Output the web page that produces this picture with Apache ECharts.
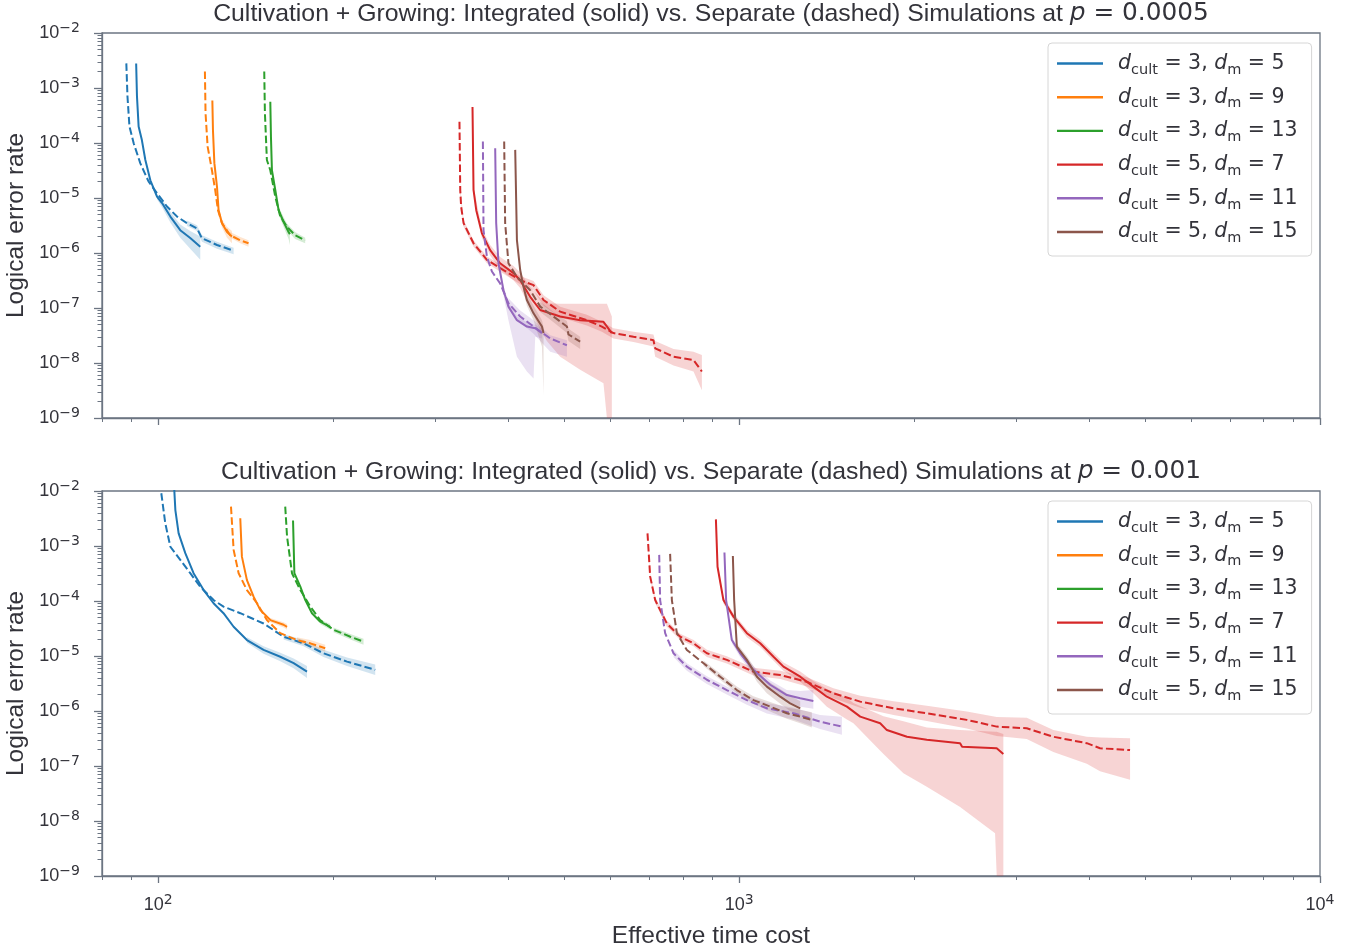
<!DOCTYPE html>
<html><head><meta charset="utf-8">
<script src="https://cdn.jsdelivr.net/npm/echarts@6/dist/echarts.min.js"></script>
<style>html,body{margin:0;padding:0;background:#fff}#c{width:1364px;height:952px}</style>
</head><body><div id="c"></div>
<script>
// ---------- Data: top panel (p = 0.0005) ----------
const t_s_c3m5 = [[91.6,2.8e-3],[91.9,7e-4],[92.5,2e-4],[93.7,1.13e-4],[95,4.9e-5],[96.9,2.1e-5],[99.5,1.06e-5],[101.5,8.1e-6],[104.9,4.6e-6],[109.1,2.6e-6],[113.5,1.87e-6],[118.1,1.3e-6]];
const t_d_c3m5 = [[88.1,2.8e-3],[88.5,7e-4],[89.2,2e-4],[90.7,9.9e-5],[93.1,4.3e-5],[96.2,2e-5],[99.5,1.22e-5],[103.5,7e-6],[107.7,4.6e-6],[112,3.5e-6],[116.6,2.8e-6],[118.9,1.85e-6],[126.2,1.4e-6],[134.8,1.1e-6]];
const t_s_c3m9 = [[123.9,5.9e-4],[124.2,1.7e-4],[124.9,4.3e-5],[126.2,1.6e-5],[127,6e-6],[128.7,3.5e-6],[131.3,2.4e-6],[133.9,2e-6]];
const t_d_c3m9 = [[120.3,2e-3],[120.6,3.5e-4],[121.6,8.6e-5],[123.7,3.2e-5],[125.3,1.4e-5],[126.7,6e-6],[128.7,3.5e-6],[133,2.1e-6],[138.4,1.7e-6],[143,1.5e-6]];
const t_s_c3m13 = [[155.9,5.6e-4],[156.3,1.3e-4],[156.9,3.2e-5],[159,1.4e-5],[161.1,6e-6],[164.3,3.7e-6],[167.6,2.4e-6],[168.5,2.2e-6]];
const t_d_c3m13 = [[152.2,2e-3],[152.6,3.5e-4],[153.8,4.9e-5],[155.9,3.2e-5],[159,1.06e-5],[162.2,4.6e-6],[166.6,3e-6],[172,2.1e-6],[179,1.7e-6]];
const t_s_c5m7 = [[347.5,4.5e-4],[348.9,1.4e-5],[352.7,6e-6],[360.6,2.3e-6],[372.7,1.13e-6],[387.7,6.5e-7],[408.8,4.3e-7],[419.8,3.2e-7],[436.8,1.6e-7],[454.5,9.2e-8],[491.9,7e-8],[532.5,6e-8],[584,5.6e-8],[603.7,3.5e-8]];
const t_d_c5m7 = [[330,2.44e-4],[331,1.4e-5],[332.2,6.9e-6],[335.4,3.5e-6],[348.9,1.5e-6],[367.9,7.5e-7],[392.9,4.9e-7],[419.8,3.2e-7],[442.6,2.6e-7],[460.5,1.4e-7],[491.9,8.6e-8],[546.8,6e-8],[580.3,4.6e-8],[607.5,3.5e-8],[657.9,3e-8],[712,2.6e-8],[716.9,1.85e-8],[770.9,1.3e-8],[834.5,1.13e-8],[862.7,7e-9]];
const t_s_c5m11 = [[380.2,8e-5],[381.7,3.5e-6],[385.2,6.5e-7],[392.9,2.1e-7],[400.7,1.06e-7],[414.4,6e-8],[431.1,4.6e-8],[445.6,4.3e-8],[457.6,3.5e-8]];
const t_d_c5m11 = [[362.1,1.06e-4],[363,2.6e-6],[367.9,8.6e-7],[375.3,4.6e-7],[387.7,2.8e-7],[400.7,1.22e-7],[419.8,7e-8],[442.6,4.6e-8],[472.9,2.8e-8],[505.2,2.1e-8]];
const t_s_c5m15 = [[411.6,7.5e-5],[414.4,1.72e-6],[419.8,4.9e-7],[425.3,2.44e-7],[431.1,1.4e-7],[442.6,8e-8],[457.6,4.6e-8],[460.5,3.5e-8]];
const t_d_c5m15 = [[394,1.06e-4],[395.5,3.5e-6],[400.7,6.5e-7],[414.4,3.7e-7],[436.8,2.1e-7],[454.5,1.06e-7],[479.1,7e-8],[505.2,4.6e-8],[508.4,3.3e-8],[532.5,2.44e-8]];

// bands: [x, low, high]
const tb_s_c3m5 = [[99.5,9.5e-6,1.15e-5],[101.5,6.8e-6,9.5e-6],[104.9,3.6e-6,5.6e-6],[109.1,1.9e-6,3.3e-6],[113.5,1.2e-6,2.5e-6],[118.1,7.5e-7,2e-6]];
const tb_d_c3m5 = [[112,3.1e-6,3.9e-6],[116.6,2.5e-6,3.2e-6],[118.9,1.6e-6,2.1e-6],[126.2,1.2e-6,1.6e-6],[134.8,9.5e-7,1.25e-6]];
const tb_s_c3m9 = [[127,5e-6,7e-6],[128.7,2.9e-6,4.1e-6],[131.3,1.9e-6,3e-6],[133.9,1.5e-6,2.5e-6]];
const tb_d_c3m9 = [[133,1.9e-6,2.4e-6],[138.4,1.5e-6,1.95e-6],[143,1.3e-6,1.7e-6]];
const tb_s_c3m13 = [[161.1,5e-6,7e-6],[164.3,3e-6,4.5e-6],[167.6,1.8e-6,3e-6],[168.5,1.4e-6,2.7e-6]];
const tb_d_c3m13 = [[166.6,2.6e-6,3.4e-6],[172,1.8e-6,2.4e-6],[179,1.5e-6,1.9e-6]];
const tb_s_c5m7 = [[348.9,1.2e-5,1.6e-5],[360.6,1.9e-6,2.8e-6],[372.7,9e-7,1.4e-6],[387.7,5e-7,8.5e-7],[408.8,3.2e-7,5.8e-7],[419.8,2.3e-7,4.4e-7],[436.8,1e-7,2.4e-7],[454.5,4e-8,1.5e-7],[466.7,2.5e-8,1.22e-7],[491.9,1.3e-8,1.2e-7],[532.5,7.5e-9,1.2e-7],[584,4.3e-9,1.2e-7],[592,1e-9,1.2e-7],[603.7,1e-9,7e-8]];
const tb_d_c5m7 = [[330,2.2e-4,2.7e-4],[331,1.2e-5,1.6e-5],[335.4,3e-6,4e-6],[348.9,1.3e-6,1.7e-6],[367.9,6.5e-7,8.6e-7],[392.9,4.2e-7,5.7e-7],[419.8,2.7e-7,3.8e-7],[442.6,2.1e-7,3.1e-7],[460.5,1.1e-7,1.7e-7],[491.9,6.8e-8,1.05e-7],[546.8,4.8e-8,7.5e-8],[580.3,3.7e-8,5.6e-8],[607.5,2.8e-8,4.3e-8],[657.9,2.4e-8,3.7e-8],[712,2e-8,3.3e-8],[716.9,1.3e-8,2.5e-8],[770.9,9e-9,1.8e-8],[834.5,7e-9,1.6e-8],[862.7,3.2e-9,1.4e-8]];
const tb_s_c5m11 = [[380.2,7e-5,9e-5],[381.7,3e-6,4e-6],[385.2,5.5e-7,7.5e-7],[392.9,1.7e-7,2.5e-7],[400.7,6e-8,1.3e-7],[414.4,1.3e-8,7e-8],[431.1,7e-9,5.5e-8],[442.6,5.2e-9,5e-8],[445.6,3e-8,5e-8],[457.6,2.8e-8,4.2e-8]];
const tb_d_c5m11 = [[400.7,1e-7,1.5e-7],[419.8,5.5e-8,9e-8],[442.6,3.4e-8,6e-8],[472.9,1.6e-8,3.2e-8],[505.2,1.3e-8,2.6e-8]];
const tb_s_c5m15 = [[425.3,2e-7,3e-7],[431.1,1.1e-7,1.8e-7],[442.6,6e-8,1.1e-7],[457.6,2e-8,6e-8],[460.5,2.6e-9,4.5e-8]];
const tb_d_c5m15 = [[454.5,8.5e-8,1.3e-7],[479.1,5.5e-8,8.5e-8],[505.2,3.5e-8,5.8e-8],[508.4,2.5e-8,4.2e-8],[532.5,1.8e-8,3e-8]];

// ---------- Data: bottom panel (p = 0.001) ----------
const b_s_c3m5 = [[106.2,2e-2],[107,4.5e-3],[108.4,1.7e-3],[111.3,7.4e-4],[115,3.2e-4],[119.7,1.58e-4],[124.5,9.1e-5],[129.5,6e-5],[134.8,3.4e-5],[142.1,1.95e-5],[151.8,1.29e-5],[162.2,9.7e-6],[171,7.4e-6],[180.3,5.2e-6]];
const b_d_c3m5 = [[101.2,9.1e-3],[102.8,2.6e-3],[104.9,9.7e-4],[109.1,5.6e-4],[113.5,3.2e-4],[118.1,1.82e-4],[124.5,1.04e-4],[129.5,7.9e-5],[138.4,6e-5],[151.8,3.9e-5],[164.3,2.24e-5],[177.9,1.7e-5],[192.5,1.12e-5],[211.3,7.9e-6],[236.3,5.6e-6]];
const b_s_c3m9 = [[138.4,3.2e-3],[139.3,6.4e-4],[142.1,2.4e-4],[145.9,1.2e-4],[149.8,6.9e-5],[155.9,4.5e-5],[164.3,3.7e-5],[166.6,3.4e-5]];
const b_d_c3m9 = [[133.4,5.2e-3],[134.8,8.5e-4],[137.5,3.2e-4],[142.1,1.58e-4],[147.9,9.1e-5],[153.8,4.5e-5],[162.2,2.6e-5],[173.3,1.95e-5],[182.7,1.7e-5],[193.8,1.38e-5]];
const b_s_c3m13 = [[170.6,2.9e-3],[171.5,3.2e-4],[175.6,1.82e-4],[179.1,1.04e-4],[183.9,6e-5],[190,4.2e-5],[197.7,3.4e-5]];
const b_d_c3m13 = [[165.4,5.2e-3],[166.6,1.48e-3],[169.9,3.2e-4],[175.6,1.58e-4],[182.7,7.9e-5],[190,4.5e-5],[200.3,3e-5],[214.1,2.24e-5],[225.6,1.82e-5]];
const b_s_c5m7 = [[912,3.05e-3],[917.9,4.2e-4],[939.6,1.04e-4],[977.7,5.2e-5],[1031,2.6e-5],[1087,1.7e-5],[1146,9.7e-6],[1192,6.4e-6],[1274,4.2e-6],[1342,2.77e-6],[1416,1.82e-6],[1533,1.2e-6],[1616,7.9e-7],[1749,6e-7],[1796,4.5e-7],[1945,3.4e-7],[2104,3e-7],[2401,2.6e-7],[2420,2.24e-7],[2776,2.1e-7],[2850,1.65e-7]];
const b_d_c5m7 = [[695.4,1.7e-3],[702.8,2.77e-4],[716.9,1.04e-4],[750.8,3.9e-5],[791.6,2.24e-5],[834.5,1.7e-5],[880,1.12e-5],[952.3,8.5e-6],[1058,5.2e-6],[1177,4.5e-6],[1308,3.4e-6],[1453,2.1e-6],[1616,1.48e-6],[1844,1.12e-6],[2104,9.1e-7],[2466,6.9e-7],[2776,5.2e-7],[3127,4.85e-7],[3475,3.4e-7],[3967,2.6e-7],[4181,2.1e-7],[4710,1.95e-7]];
const b_s_c5m11 = [[943.4,7.6e-4],[949.7,1.04e-4],[971.4,1.95e-5],[1004,1.12e-5],[1058,5.6e-6],[1131,3e-6],[1208,1.95e-6],[1274,1.7e-6],[1342,1.52e-6]];
const b_d_c5m11 = [[728.4,6.9e-4],[731.1,1.04e-4],[745.8,2.6e-5],[770.9,1.12e-5],[812.8,6.4e-6],[880,3.7e-6],[952.3,2.4e-6],[1031,1.58e-6],[1116,1.12e-6],[1241,9.1e-7],[1378,6.4e-7],[1503,5.2e-7]];
const b_s_c5m15 = [[975.4,6.6e-4],[980.4,1.04e-4],[990.9,1.48e-5],[1031,8.5e-6],[1073,4.2e-6],[1116,2.77e-6],[1177,1.82e-6],[1224,1.38e-6],[1274,1.12e-6]];
const b_d_c5m15 = [[760.6,7.2e-4],[765.9,1.04e-4],[781.3,2.6e-5],[812.8,1.29e-5],[868.3,7.4e-6],[927.7,4.2e-6],[990.9,2.4e-6],[1058,1.58e-6],[1131,1.2e-6],[1208,9.1e-7],[1274,7.9e-7],[1334,6.9e-7]];

const bb_s_c3m5 = [[142.1,1.75e-5,2.2e-5],[151.8,1.1e-5,1.5e-5],[162.2,8e-6,1.15e-5],[171,6e-6,9e-6],[180.3,4e-6,6.6e-6]];
const bb_d_c3m5 = [[164.3,2e-5,2.5e-5],[177.9,1.5e-5,1.95e-5],[192.5,9.6e-6,1.3e-5],[211.3,6.6e-6,9.4e-6],[236.3,4.5e-6,7e-6]];
const bb_s_c3m9 = [[155.9,4.1e-5,4.9e-5],[164.3,3.3e-5,4.1e-5],[166.6,3e-5,3.8e-5]];
const bb_d_c3m9 = [[173.3,1.75e-5,2.2e-5],[182.7,1.5e-5,1.95e-5],[193.8,1.2e-5,1.6e-5]];
const bb_s_c3m13 = [[190,3.8e-5,4.6e-5],[197.7,3e-5,3.8e-5]];
const bb_d_c3m13 = [[200.3,2.7e-5,3.3e-5],[214.1,2e-5,2.5e-5],[225.6,1.6e-5,2.05e-5]];
const bb_s_c5m7 = [[912,2.7e-3,3.4e-3],[917.9,3.7e-4,4.7e-4],[939.6,9e-5,1.2e-4],[977.7,4.5e-5,6e-5],[1031,2.2e-5,3e-5],[1087,1.45e-5,2e-5],[1146,8.2e-6,1.15e-5],[1192,5.4e-6,7.6e-6],[1274,3.4e-6,5.2e-6],[1342,2.1e-6,3.5e-6],[1416,1.2e-6,2.5e-6],[1533,7e-7,1.7e-6],[1573,6e-7,1.4e-6],[1772,1.65e-7,8e-7],[1918,7.4e-8,6.5e-7],[2104,4.2e-8,5e-7],[2401,1.8e-8,4.5e-7],[2758,6e-9,4.2e-7],[2776,1e-9,4.2e-7],[2850,1e-9,3.8e-7]];
const bb_d_c5m7 = [[695.4,1.5e-3,1.9e-3],[702.8,2.5e-4,3.1e-4],[716.9,9.2e-5,1.17e-4],[750.8,3.4e-5,4.4e-5],[791.6,1.95e-5,2.55e-5],[834.5,1.5e-5,1.95e-5],[880,9.6e-6,1.3e-5],[952.3,7.3e-6,9.9e-6],[1058,4.4e-6,6.1e-6],[1177,3.8e-6,5.4e-6],[1308,2.8e-6,4.1e-6],[1453,1.7e-6,2.6e-6],[1616,1.15e-6,1.9e-6],[1844,8.5e-7,1.5e-6],[2104,6.6e-7,1.25e-6],[2466,4.8e-7,9.8e-7],[2776,3.5e-7,7.8e-7],[3127,3.1e-7,7.5e-7],[3475,1.8e-7,4.5e-7],[3967,1.1e-7,3.4e-7],[4181,8e-8,3.3e-7],[4710,5.6e-8,3.2e-7]];
const bb_s_c5m11 = [[971.4,1.7e-5,2.2e-5],[1004,9.5e-6,1.3e-5],[1058,4.6e-6,6.6e-6],[1131,2.4e-6,3.6e-6],[1208,1.45e-6,2.4e-6],[1274,1.2e-6,2.3e-6],[1342,1.1e-6,2.4e-6]];
const bb_d_c5m11 = [[770.9,9.6e-6,1.3e-5],[812.8,5.4e-6,7.4e-6],[880,3.1e-6,4.3e-6],[952.3,2e-6,2.8e-6],[1031,1.3e-6,1.9e-6],[1116,9e-7,1.4e-6],[1241,7e-7,1.15e-6],[1378,4.7e-7,8.5e-7],[1503,3.7e-7,7.9e-7]];
const bb_s_c5m15 = [[990.9,1.3e-5,1.7e-5],[1031,7.2e-6,1e-5],[1073,3.4e-6,5.3e-6],[1116,2.1e-6,3.6e-6],[1177,1.35e-6,2.5e-6],[1224,1e-6,1.9e-6],[1274,8.5e-7,1.5e-6]];
const bb_d_c5m15 = [[868.3,6.6e-6,8.3e-6],[927.7,3.7e-6,4.8e-6],[990.9,2.1e-6,2.8e-6],[1058,1.35e-6,1.85e-6],[1131,9.8e-7,1.45e-6],[1208,7.2e-7,1.15e-6],[1274,6e-7,1.05e-6],[1334,5e-7,9.5e-7]];

// ---------- Labels / categories ----------
const dCult = ['3','3','3','5','5','5'];
const dM = ['5','9','13','7','11','15'];
const pValues = ['0.0005','0.001'];
const xMajor = [100, 1000, 10000];
const yMajor = [1e-9,1e-8,1e-7,1e-6,1e-5,1e-4,1e-3,1e-2];
const titlePrefix = 'Cultivation + Growing: Integrated (solid) vs. Separate (dashed) Simulations at ';

const colors = ['#1f77b4','#ff7f0e','#2ca02c','#d62728','#9467bd','#8c564b'];
const panels = [
  {solid:[t_s_c3m5,t_s_c3m9,t_s_c3m13,t_s_c5m7,t_s_c5m11,t_s_c5m15],
   dashed:[t_d_c3m5,t_d_c3m9,t_d_c3m13,t_d_c5m7,t_d_c5m11,t_d_c5m15],
   sBand:[tb_s_c3m5,tb_s_c3m9,tb_s_c3m13,tb_s_c5m7,tb_s_c5m11,tb_s_c5m15],
   dBand:[tb_d_c3m5,tb_d_c3m9,tb_d_c3m13,tb_d_c5m7,tb_d_c5m11,tb_d_c5m15]},
  {solid:[b_s_c3m5,b_s_c3m9,b_s_c3m13,b_s_c5m7,b_s_c5m11,b_s_c5m15],
   dashed:[b_d_c3m5,b_d_c3m9,b_d_c3m13,b_d_c5m7,b_d_c5m11,b_d_c5m15],
   sBand:[bb_s_c3m5,bb_s_c3m9,bb_s_c3m13,bb_s_c5m7,bb_s_c5m11,bb_s_c5m15],
   dBand:[bb_d_c3m5,bb_d_c3m9,bb_d_c3m13,bb_d_c5m7,bb_d_c5m11,bb_d_c5m15]}
];

// minor tick positions (axis decoration)
const xMinor = [];
[10,100,1000].forEach(d => { for (let k=2;k<=9;k++){ const v=k*d; if (v>=80 && v<10000) xMinor.push(v);} });
const yMinor = [];
for (let e=-9;e<-2;e++){ for (let k=2;k<=9;k++) yMinor.push(+(k+'e'+e)); }

const spine = '#6c7582';
const textC = '#33333a';
const sansF = 'Liberation Sans, Arial, Helvetica, sans-serif';
const mathF = 'DejaVu Sans';
const gridTops = [33, 491];

const grids = gridTops.map(t => ({left:102, top:t, width:1218, height:385, show:true, containLabel:false, outerBoundsMode:'none',
  borderColor:spine, borderWidth:1.3, backgroundColor:'transparent'}));

const expFmt = (v) => { const e = Math.round(Math.log10(v)); return '{b|10}{s|' + (e<0 ? '\u2212' + (-e) : e) + '}'; };
const tickRich = {b:{fontSize:18, fontFamily:sansF, color:textC, lineHeight:24, fontWeight:'normal'}, s:{fontSize:14, fontFamily:mathF, color:textC, lineHeight:13, verticalAlign:'top', fontWeight:'normal'}};

const xAxes = [], yAxes = [];
[0,1].forEach(i => {
  xAxes.push({type:'log', logBase:10, gridIndex:i, min:80, max:10000, position:'bottom',
    axisLine:{show:true, lineStyle:{color:spine, width:1.3}},
    axisTick:{show:true, customValues:xMajor, length:7, lineStyle:{color:spine, width:1.3}},
    axisLabel:{show:i===1, customValues:xMajor, formatter:expFmt, rich:tickRich, fontSize:18, fontFamily:sansF, color:textC, margin:17},
    splitLine:{show:false},
    name: i===1 ? 'Effective time cost' : '', nameLocation:'middle', nameGap:48,
    nameTextStyle:{fontSize:24.5, fontFamily:sansF, color:textC}});
  xAxes.push({type:'log', logBase:10, gridIndex:i, min:80, max:10000, position:'bottom',
    axisLine:{show:false}, axisTick:{show:true, customValues:xMinor, length:4, lineStyle:{color:spine, width:1}},
    axisLabel:{show:false}, splitLine:{show:false}});
  yAxes.push({type:'log', logBase:10, gridIndex:i, min:1e-9, max:1e-2, position:'left',
    axisLine:{show:true, lineStyle:{color:spine, width:1.3}},
    axisTick:{show:true, customValues:yMajor, length:8, lineStyle:{color:spine, width:1.3}},
    axisLabel:{show:true, customValues:yMajor, formatter:expFmt, rich:tickRich, fontSize:18, fontFamily:sansF, color:textC, margin:22},
    splitLine:{show:false},
    name:'Logical error rate', nameLocation:'middle', nameGap:69,
    nameTextStyle:{fontSize:24.5, fontFamily:sansF, color:textC}});
  yAxes.push({type:'log', logBase:10, gridIndex:i, min:1e-9, max:1e-2, position:'left',
    axisLine:{show:false}, axisTick:{show:true, customValues:yMinor, length:4.5, lineStyle:{color:spine, width:1}},
    axisLabel:{show:false}, splitLine:{show:false}});
});

function bandSeries(band, color, ax) {
  return {type:'custom', name:'band', xAxisIndex:ax, yAxisIndex:ax, silent:true, clip:true, z:1,
    data:[[band[0][0], band[0][2]]],
    renderItem:(params, api) => {
      const pts = [];
      for (const d of band) pts.push(api.coord([d[0], d[2]]));
      for (let k=band.length-1;k>=0;k--) pts.push(api.coord([band[k][0], band[k][1]]));
      return {type:'polygon', shape:{points:pts}, style:{fill:color, opacity:0.2}};
    }};
}

const series = [];
panels.forEach((p, i) => {
  const ax = i*2;
  for (let k=0;k<6;k++){
    series.push(bandSeries(p.sBand[k], colors[k], ax));
    series.push(bandSeries(p.dBand[k], colors[k], ax));
    series.push({type:'line', name:'L'+k, xAxisIndex:ax, yAxisIndex:ax, data:p.solid[k], color:colors[k],
      showSymbol:false, symbol:'none', clip:true, z:3, silent:true, lineStyle:{width:2, color:colors[k]}});
    series.push({type:'line', name:'D'+k, xAxisIndex:ax, yAxisIndex:ax, data:p.dashed[k], color:colors[k],
      showSymbol:false, symbol:'none', clip:true, z:3, silent:true, lineStyle:{width:2, color:colors[k], type:[7.5,3.2]}});
  }
});

const legendRich = {
  i:{fontFamily:mathF, fontStyle:'italic', fontSize:20.5, color:textC, lineHeight:28},
  n:{fontFamily:mathF, fontSize:20.5, color:textC, lineHeight:28},
  s:{fontFamily:mathF, fontSize:14.5, color:textC, lineHeight:15, verticalAlign:'bottom'},
  g:{width:10, lineHeight:28}
};
const legends = gridTops.map(t => ({
  orient:'vertical', left:1048, top:t+10, selectedMode:false,
  data:[0,1,2,3,4,5].map(k => ({name:'L'+k, icon:'rect'})),
  itemWidth:46, itemHeight:2.4, itemGap:9.2,
  padding:[10,14,10,9], backgroundColor:'rgba(255,255,255,0.85)', borderColor:'#d6d6d6', borderWidth:1, borderRadius:4,
  formatter:(name) => { const k = +name.slice(1); return '{g| }{i|d}{s|cult}{n| = ' + dCult[k] + ', }{i|d}{s|m}{n| = ' + dM[k] + '}'; },
  textStyle:{rich:legendRich}
}));

const titles = pValues.map((pv, i) => ({
  text: '{n|' + titlePrefix + '}{i|p}{m| = ' + pv + '}',
  left:711, top: gridTops[i] - 33, textAlign:'center', padding:0,
  textStyle:{fontWeight:'normal', rich:{
    n:{fontSize:24.8, fontFamily:sansF, color:textC, lineHeight:28, fontWeight:'normal'},
    i:{fontSize:24.8, fontFamily:mathF, fontStyle:'italic', color:textC, lineHeight:28, fontWeight:'normal'},
    m:{fontSize:24.8, fontFamily:mathF, color:textC, lineHeight:28, fontWeight:'normal'}}}
}));

const chart = echarts.init(document.getElementById('c'), null, {renderer:'canvas'});
chart.setOption({
  animation:false, backgroundColor:'#fff',
  title:titles, grid:grids, xAxis:xAxes, yAxis:yAxes, legend:legends, series:series
});
</script></body></html>
